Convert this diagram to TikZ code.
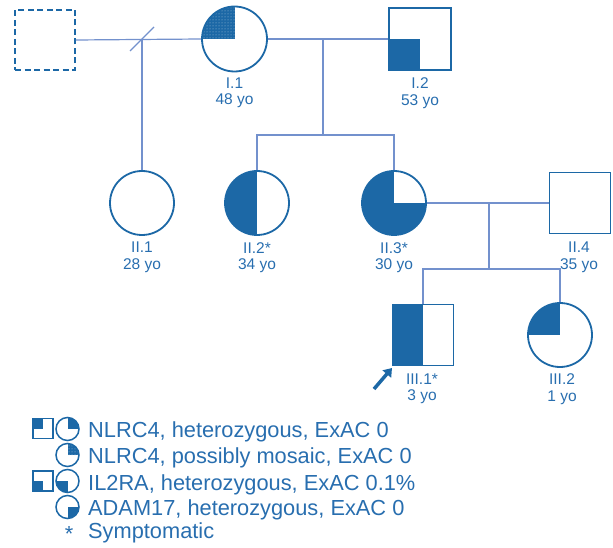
\documentclass[tikz,border=0pt]{standalone}
\usepackage{fontspec}
\setmainfont{Liberation Sans}
\usetikzlibrary{patterns,arrows.meta}
\definecolor{ped}{RGB}{28,104,166}
\definecolor{lnk}{RGB}{115,145,205}
\definecolor{txt}{RGB}{40,110,175}
\tikzset{
  sq/.style={rectangle, draw=ped, line width=1.8pt, inner sep=0pt, minimum size=#1},
  ci/.style={circle, draw=ped, line width=1.8pt, inner sep=0pt, minimum size=#1},
  conn/.style={draw=lnk, line width=1.2pt},
  lab/.style={text=txt, font=\fontsize{15.5}{16.5}\selectfont, align=center, inner sep=0pt},
  legtext/.style={text=txt, font=\fontsize{21.8}{24}\selectfont, anchor=base west, inner sep=0pt},
  qTL/.style={path picture={\fill[ped] (path picture bounding box.center) rectangle (path picture bounding box.north west);}},
  qTR/.style={path picture={\fill[ped] (path picture bounding box.center) rectangle (path picture bounding box.north east);}},
  qBL/.style={path picture={\fill[ped] (path picture bounding box.center) rectangle (path picture bounding box.south west);}},
  qBR/.style={path picture={\fill[ped] (path picture bounding box.center) rectangle (path picture bounding box.south east);}},
  hL/.style={path picture={\fill[ped] (path picture bounding box.north west) rectangle (path picture bounding box.south);}},
  noTR/.style={path picture={\fill[ped] (path picture bounding box.south west) rectangle (path picture bounding box.east);
      \fill[ped] (path picture bounding box.west) rectangle (path picture bounding box.north);}},
  dotTL/.style={path picture={\fill[ped] (path picture bounding box.center) rectangle (path picture bounding box.north west);
      \fill[pattern=dots, pattern color=white!60!ped] (path picture bounding box.center) rectangle (path picture bounding box.north west);}},
  dotTR/.style={path picture={\fill[ped] (path picture bounding box.center) rectangle (path picture bounding box.north east);
      \fill[pattern=dots, pattern color=white!60!ped] (path picture bounding box.center) rectangle (path picture bounding box.north east);}},
}
\begin{document}
\begin{tikzpicture}[x=1pt,y=-1pt]
\useasboundingbox (0,0) rectangle (613,548);
% generation I
\node[sq=60pt, dashed, dash pattern=on 6pt off 3.5pt] (U) at (45,40) {};
\node[ci=65pt, dotTL] (I1) at (234.5,39) {};
\node[sq=62pt, qBL] (I2) at (420,39) {};
% generation II
\node[ci=64pt] (II1) at (142,203) {};
\node[ci=64pt, hL] (II2) at (257,203) {};
\node[ci=64pt, noTR] (II3) at (394,203) {};
\node[sq=61pt] (II4) at (580,203) {};
% generation III
\node[sq=61pt, hL] (III1) at (423,335) {};
\node[ci=64pt, qTL] (III2) at (560,335) {};

% connectors
\coordinate (m0) at (142,39);
\coordinate (s1) at (130,51);
\coordinate (s2) at (154,27);
\coordinate (m1) at (323,39);
\coordinate (c1) at (323,135);
\coordinate (c1a) at (257,135);
\coordinate (c1b) at (394,135);
\coordinate (m2) at (489,203);
\coordinate (c2) at (489,269);
\coordinate (c2a) at (423,269);
\coordinate (c2b) at (560,269);
\draw[conn] (U.east) -- (I1.west);
\draw[conn] (s1) -- (s2);
\draw[conn] (m0) -- (II1.north);
\draw[conn] (I1.east) -- (I2.west);
\draw[conn] (m1) -- (c1);
\draw[conn] (II2.north) -- (c1a) -- (c1b) -- (II3.north);
\draw[conn] (II3.east) -- (II4.west);
\draw[conn] (m2) -- (c2);
\draw[conn] (III1.north) -- (c2a) -- (c2b) -- (III2.north);

% labels
\node[lab] (lI1) at (234.5,93) {I.1\\48 yo};
\node[lab] (lI2) at (420,93) {I.2\\53 yo};
\node[lab] (lII1) at (142,257.5) {II.1\\28 yo};
\node[lab] (lII2) at (257,257.5) {II.2*\\34 yo};
\node[lab] (lII3) at (394,257.5) {II.3*\\30 yo};
\node[lab] (lII4) at (579,257.5) {II.4\\35 yo};
\node[lab] (lIII1) at (422,389) {III.1*\\3 yo};
\node[lab] (lIII2) at (562,389) {III.2\\1 yo};

% proband arrow
\coordinate (pa) at (374,389);
\coordinate (pb) at (392,368);
\draw[draw=ped, line width=3.5pt, -{Triangle[length=8pt,width=11pt]}] (pa) -- (pb);

% legend
\node[sq=20pt, qTL, line width=1.5pt] (L1s) at (43,428.5) {};
\node[ci=23pt, qTR, line width=1.5pt] (L1c) at (67.5,429) {};
\node[legtext] (L1t) at (88,437) {NLRC4, heterozygous, ExAC 0};
\node[ci=23pt, dotTR, line width=1.5pt] (L2c) at (67.5,455) {};
\node[legtext] (L2t) at (88,463) {NLRC4, possibly mosaic, ExAC 0};
\node[sq=20pt, qBL, line width=1.5pt] (L3s) at (43,481) {};
\node[ci=23pt, qBL, line width=1.5pt] (L3c) at (67.5,481) {};
\node[legtext] (L3t) at (88,490) {IL2RA, heterozygous, ExAC 0.1\%};
\node[ci=23pt, qBR, line width=1.5pt] (L4c) at (67.5,507) {};
\node[legtext] (L4t) at (88,515) {ADAM17, heterozygous, ExAC 0};
\node[legtext, anchor=base] (L5s) at (69,541) {*};
\node[legtext] (L5t) at (88,538) {Symptomatic};
\end{tikzpicture}
\end{document}
